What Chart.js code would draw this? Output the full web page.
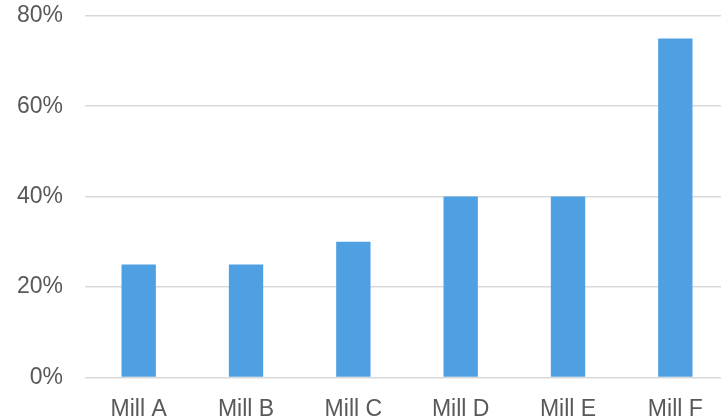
<!DOCTYPE html>
<html>
<head>
<meta charset="utf-8">
<script src="https://cdn.jsdelivr.net/npm/chart.js@4"></script>
<style>
  html, body { margin: 0; padding: 0; overflow: hidden; background: #fff; }
  #wrap { width: 729px; height: 461px; position: relative; margin-top: -20px; }
</style>
</head>
<body>
<div id="wrap"><canvas id="mill-chart"></canvas></div>
<script>
const mills = ["Mill A", "Mill B", "Mill C", "Mill D", "Mill E", "Mill F"];
const share = [25, 25, 30, 40, 40, 75];
const y_ticks = [0, 20, 40, 60, 80];

const ctx = document.getElementById("mill-chart").getContext("2d");

let chart = new Chart(ctx, {
  type: "bar",
  data: {
    labels: mills,
    datasets: [{
      label: "share",
      data: share,
      backgroundColor: "#4FA0E3",
      categoryPercentage: 1,
      barPercentage: 0.32
    }]
  },
  options: {
    responsive: true,
    maintainAspectRatio: false,
    animation: false,
    layout: { padding: { top: 0, right: 0, left: -5, bottom: 0 } },
    plugins: { legend: { display: false }, tooltip: { enabled: false } },
    scales: {
      x: {
        grid: { display: false, drawTicks: false },
        border: { display: false },
        ticks: {
          color: "#595959",
          font: { family: "Liberation Sans", size: 23 },
          padding: 18
        }
      },
      y: {
        min: 0,
        max: 80,
        afterBuildTicks: axis => { axis.ticks = y_ticks.map(v => ({ value: v })); },
        grid: { color: "#d9d9d9", lineWidth: 1.5, drawTicks: false },
        border: { display: false },
        ticks: {
          color: "#595959",
          font: { family: "Liberation Sans", size: 23 },
          padding: 22,
          callback: v => v + "%"
        }
      }
    }
  }
});
</script>
</body>
</html>
